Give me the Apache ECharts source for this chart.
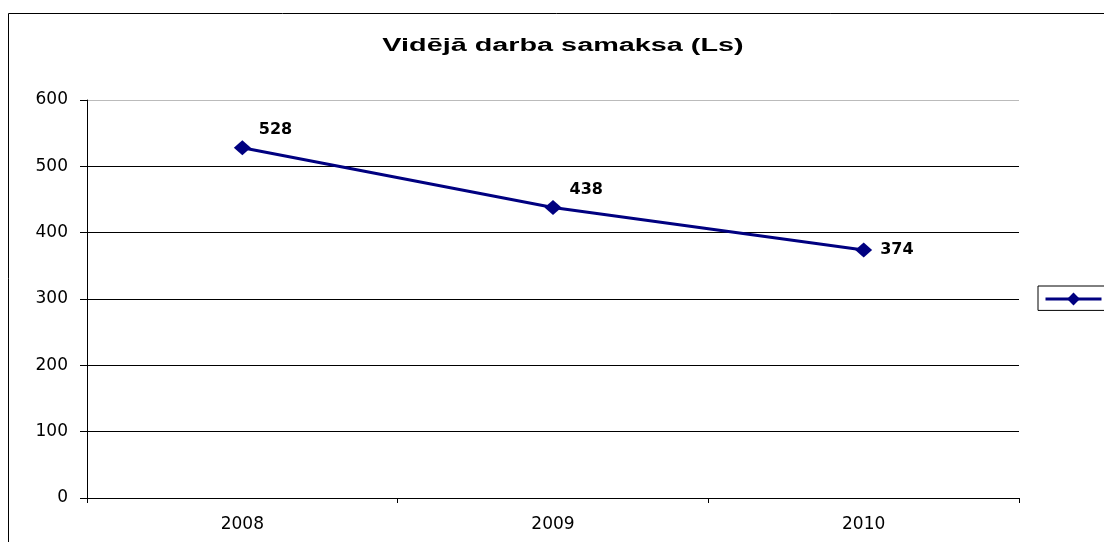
<!DOCTYPE html>
<html>
<head>
<meta charset="utf-8">
<script src="https://cdn.jsdelivr.net/npm/echarts@6/dist/echarts.min.js"></script>
<style>
  html, body { margin: 0; padding: 0; background: #fff; }
  #chart { width: 1104px; height: 542px; }
</style>
</head>
<body>
<div id="chart"></div>
<script>
const years = ['2008', '2009', '2010']
const salary = [528, 438, 374]
const seriesName = 'Vidējā darba samaksa'
const titleText = 'Vidējā darba samaksa (Ls)'

const font = '"DejaVu Sans", Verdana, sans-serif'
const titleFont = '"Liberation Sans", Arial, sans-serif'
const navy = '#000080'

const chart = echarts.init(document.getElementById('chart'), null, { renderer: 'canvas' })

chart.setOption({
  animation: false,
  backgroundColor: '#fff',
  textStyle: { fontFamily: font },
  legend: {
    left: 1038,
    top: 286,
    orient: 'vertical',
    itemWidth: 56,
    itemHeight: 16,
    padding: [5, 4, 5, 6],
    borderColor: '#000',
    borderWidth: 1,
    borderRadius: 0,
    lineStyle: { width: 3 },
    formatter: () => '',
    data: [seriesName],
  },
  graphic: [{
    type: 'rect',
    shape: { x: 8.5, y: 13.5, width: 1200, height: 600 },
    style: { fill: 'none', stroke: '#000', lineWidth: 1 },
    silent: true,
    z: 0,
  }, {
    // title is stretched horizontally like the source picture
    type: 'text',
    x: 563,
    y: 46.5,
    scaleX: 1.6,
    style: {
      text: titleText,
      x: 0,
      y: 0,
      align: 'center',
      verticalAlign: 'middle',
      font: 'bold 18px ' + titleFont,
      fill: '#000',
    },
    silent: true,
  }],
  grid: { left: 87, right: 85, top: 100, bottom: 44 },
  xAxis: {
    type: 'category',
    data: years,
    boundaryGap: true,
    axisLine: { lineStyle: { color: '#000', width: 1 } },
    axisTick: { show: true, length: 5, lineStyle: { color: '#000' } },
    axisLabel: { color: '#000', fontSize: 17, margin: 18, fontFamily: font },
  },
  yAxis: {
    type: 'value',
    min: 0,
    max: 600,
    interval: 100,
    axisLine: { show: true, lineStyle: { color: '#000', width: 1 } },
    axisTick: { show: true, length: 7, lineStyle: { color: '#000' } },
    axisLabel: { color: '#000', fontSize: 17, margin: 19, fontFamily: font },
    splitLine: {
      show: true,
      lineStyle: { color: ['#000', '#000', '#000', '#000', '#000', '#000', '#bbb'], width: 1 },
    },
  },
  series: [{
    name: seriesName,
    type: 'line',
    data: salary.map((v, i) => ({
      value: v,
      label: i < 2 ? { position: 'right', offset: [0, -18] } : { position: 'right' },
    })),
    symbol: 'diamond',
    symbolSize: [17, 15],
    itemStyle: { color: navy },
    lineStyle: { color: navy, width: 3 },
    label: {
      show: true,
      position: 'right',
      distance: 8,
      color: '#000',
      fontSize: 16,
      fontWeight: 'bold',
      fontFamily: font,
    },
  }],
})
</script>
</body>
</html>
